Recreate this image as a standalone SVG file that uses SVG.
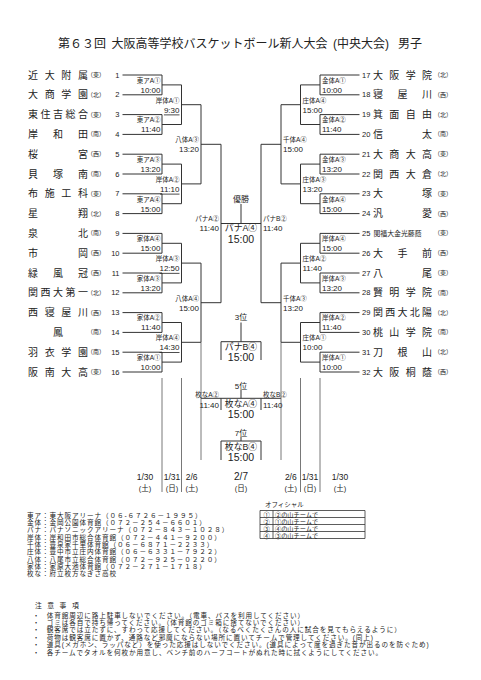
<svg xmlns="http://www.w3.org/2000/svg" width="481" height="680" viewBox="0 0 481 680">
<style>
text{font-family:"Liberation Sans","Noto Sans CJK JP","Noto Sans CJK SC",sans-serif;fill:#222;dominant-baseline:central}
.ln{fill:none;stroke:#333;stroke-width:1}
.sep{fill:none;stroke:#555;stroke-width:0.8}
.nm{font-size:10px;text-anchor:middle}
.rg{font-size:6px;text-anchor:middle}
.nL{font-size:7.5px;text-anchor:end}
.nR{font-size:7.5px;text-anchor:start}
.lb{font-size:6.5px}
.tm{font-size:8px}
.L{text-anchor:end}
.R{text-anchor:start}
.u{text-decoration:underline}
.c{text-anchor:middle}
.ct{font-size:8.8px;text-anchor:middle}
.cn{font-size:10.5px;text-anchor:middle}
.pl{font-size:8px;text-anchor:middle}
.dt{font-size:8.5px;text-anchor:middle}
.dw{font-size:7.5px;text-anchor:middle}
.sm{font-size:6.6px;letter-spacing:0.9px}
.bl{font-size:6.6px;text-anchor:middle}
.of{font-size:6.2px}
</style>
<rect width="481" height="680" fill="#fff"/>
<text id="title" x="58" y="44" style="font-size:12px">第６３回<tspan x="111.5">大阪高等学校バスケットボール新人大会</tspan><tspan x="333">(中央大会)</tspan><tspan x="398">男子</tspan></text>

<g id="connectors">
<path class="ln" d="M122.5 75H162V94.8H122.5M162 84.9H181.5M122.5 114.6H162V134.4H122.5M162 124.5H181.5M122.5 154.2H162V174H122.5M162 164.1H181.5M122.5 193.8H162V213.6H122.5M162 203.7H181.5M122.5 233.4H162V253.2H122.5M162 243.3H181.5M122.5 273H162V292.8H122.5M162 282.9H181.5M122.5 312.6H162V332.4H122.5M162 322.5H181.5M122.5 352.2H162V372H122.5M162 362.1H181.5"/>
<path class="ln" d="M181.5 84.9V124.5M181.5 104.7H201M181.5 164.1V203.7M181.5 183.9H201M181.5 243.3V282.9M181.5 263.1H201M181.5 322.5V362.1M181.5 342.3H201M201 104.7V183.9M201 144.3H221M201 263.1V342.3M201 302.7H221M221 144.3V302.7"/>
<path class="ln" d="M359.5 75H320V94.8H359.5M320 84.9H300.5M359.5 114.6H320V134.4H359.5M320 124.5H300.5M359.5 154.2H320V174H359.5M320 164.1H300.5M359.5 193.8H320V213.6H359.5M320 203.7H300.5M359.5 233.4H320V253.2H359.5M320 243.3H300.5M359.5 273H320V292.8H359.5M320 282.9H300.5M359.5 312.6H320V332.4H359.5M320 322.5H300.5M359.5 352.2H320V372H359.5M320 362.1H300.5"/>
<path class="ln" d="M300.5 84.9V124.5M300.5 104.7H281M300.5 164.1V203.7M300.5 183.9H281M300.5 243.3V282.9M300.5 263.1H281M300.5 322.5V362.1M300.5 342.3H281M281 104.7V183.9M281 144.3H261M281 263.1V342.3M281 302.7H261M261 144.3V302.7"/>
<path class="ln" d="M221 223.5H261M241 204V223.5"/>
<path class="ln" d="M241 322.5V341.7M221 360V341.7H261V360"/>
<path class="ln" d="M241 390V398.3M201 398.3H281M221 398.3V410M261 398.3V410"/>
<path class="ln" d="M241 437V441M221 460V441H261V460"/>
<path class="sep" d="M162 378V492M181.5 378V492M300.5 378V492M320 378V492M201 342.3V460M281 342.3V460"/>
</g>

<g id="teams-left">
<g id="t1"><text class="nm" x="33 49.67 66.33 83" y="75">近大附属</text><text class="rg" x="96" y="75">（東）</text><text class="nL" x="119.5" y="75">1</text></g>
<g id="t2"><text class="nm" x="33 49.67 66.33 83" y="94.8">大商学園</text><text class="rg" x="96" y="94.8">（北）</text><text class="nL" x="119.5" y="94.8">2</text></g>
<g id="t3"><text class="nm" x="33 45.5 58 70.5 83" y="114.6">東住吉総合</text><text class="rg" x="96" y="114.6">（東）</text><text class="nL" x="119.5" y="114.6">3</text></g>
<g id="t4"><text class="nm" x="33 58 83" y="134.4">岸和田</text><text class="rg" x="96" y="134.4">（南）</text><text class="nL" x="119.5" y="134.4">4</text></g>
<g id="t5"><text class="nm" x="33 83" y="154.2">桜宮</text><text class="rg" x="96" y="154.2">（西）</text><text class="nL" x="119.5" y="154.2">5</text></g>
<g id="t6"><text class="nm" x="33 58 83" y="174">貝塚南</text><text class="rg" x="96" y="174">（南）</text><text class="nL" x="119.5" y="174">6</text></g>
<g id="t7"><text class="nm" x="33 49.67 66.33 83" y="193.8">布施工科</text><text class="rg" x="96" y="193.8">（東）</text><text class="nL" x="119.5" y="193.8">7</text></g>
<g id="t8"><text class="nm" x="33 83" y="213.6">星翔</text><text class="rg" x="96" y="213.6">（北）</text><text class="nL" x="119.5" y="213.6">8</text></g>
<g id="t9"><text class="nm" x="33 83" y="233.4">泉北</text><text class="rg" x="96" y="233.4">（南）</text><text class="nL" x="119.5" y="233.4">9</text></g>
<g id="t10"><text class="nm" x="33 83" y="253.2">市岡</text><text class="rg" x="96" y="253.2">（西）</text><text class="nL" x="119.5" y="253.2">10</text></g>
<g id="t11"><text class="nm" x="33 58 83" y="273">緑風冠</text><text class="rg" x="96" y="273">（西）</text><text class="nL" x="119.5" y="273">11</text></g>
<g id="t12"><text class="nm" x="33 45.5 58 70.5 83" y="292.8">関西大第一</text><text class="rg" x="96" y="292.8">（北）</text><text class="nL" x="119.5" y="292.8">12</text></g>
<g id="t13"><text class="nm" x="33 49.67 66.33 83" y="312.6">西寝屋川</text><text class="rg" x="96" y="312.6">（西）</text><text class="nL" x="119.5" y="312.6">13</text></g>
<g id="t14"><text class="nm" x="58" y="332.4">鳳</text><text class="rg" x="96" y="332.4">（南）</text><text class="nL" x="119.5" y="332.4">14</text></g>
<g id="t15"><text class="nm" x="33 49.67 66.33 83" y="352.2">羽衣学園</text><text class="rg" x="96" y="352.2">（南）</text><text class="nL" x="119.5" y="352.2">15</text></g>
<g id="t16"><text class="nm" x="33 49.67 66.33 83" y="372">阪南大高</text><text class="rg" x="96" y="372">（東）</text><text class="nL" x="119.5" y="372">16</text></g>
</g>

<g id="teams-right">
<g id="t17"><text class="nR" x="362" y="75">17</text><text class="nm" x="378 394.33 410.67 427" y="75">大阪学院</text><text class="rg" x="443" y="75">（北）</text></g>
<g id="t18"><text class="nR" x="362" y="94.8">18</text><text class="nm" x="378 402.5 427" y="94.8">寝屋川</text><text class="rg" x="443" y="94.8">（西）</text></g>
<g id="t19"><text class="nR" x="362" y="114.6">19</text><text class="nm" x="378 394.33 410.67 427" y="114.6">箕面自由</text><text class="rg" x="443" y="114.6">（北）</text></g>
<g id="t20"><text class="nR" x="362" y="134.4">20</text><text class="nm" x="378 427" y="134.4">信太</text><text class="rg" x="443" y="134.4">（南）</text></g>
<g id="t21"><text class="nR" x="362" y="154.2">21</text><text class="nm" x="378 394.33 410.67 427" y="154.2">大商大高</text><text class="rg" x="443" y="154.2">（東）</text></g>
<g id="t22"><text class="nR" x="362" y="174">22</text><text class="nm" x="378 394.33 410.67 427" y="174">関西大倉</text><text class="rg" x="443" y="174">（北）</text></g>
<g id="t23"><text class="nR" x="362" y="193.8">23</text><text class="nm" x="378 427" y="193.8">大塚</text><text class="rg" x="443" y="193.8">（東）</text></g>
<g id="t24"><text class="nR" x="362" y="213.6">24</text><text class="nm" x="378 427" y="213.6">汎愛</text><text class="rg" x="443" y="213.6">（西）</text></g>
<g id="t25"><text class="nR" x="362" y="233.4">25</text><text class="nm" x="397.5" y="233.4" style="font-size:6.9px">関福大金光藤蔭</text><text class="rg" x="443" y="233.4">（東）</text></g>
<g id="t26"><text class="nR" x="362" y="253.2">26</text><text class="nm" x="378 402.5 427" y="253.2">大手前</text><text class="rg" x="443" y="253.2">（西）</text></g>
<g id="t27"><text class="nR" x="362" y="273">27</text><text class="nm" x="378 427" y="273">八尾</text><text class="rg" x="443" y="273">（東）</text></g>
<g id="t28"><text class="nR" x="362" y="292.8">28</text><text class="nm" x="378 394.33 410.67 427" y="292.8">賢明学院</text><text class="rg" x="443" y="292.8">（南）</text></g>
<g id="t29"><text class="nR" x="362" y="312.6">29</text><text class="nm" x="378 390.25 402.5 414.75 427" y="312.6">関西大北陽</text><text class="rg" x="443" y="312.6">（北）</text></g>
<g id="t30"><text class="nR" x="362" y="332.4">30</text><text class="nm" x="378 394.33 410.67 427" y="332.4">桃山学院</text><text class="rg" x="443" y="332.4">（南）</text></g>
<g id="t31"><text class="nR" x="362" y="352.2">31</text><text class="nm" x="378 402.5 427" y="352.2">刀根山</text><text class="rg" x="443" y="352.2">（北）</text></g>
<g id="t32"><text class="nR" x="362" y="372">32</text><text class="nm" x="378 394.33 410.67 427" y="372">大阪桐蔭</text><text class="rg" x="443" y="372">（西）</text></g>
</g>

<g id="matches-left">
<g id="mL1"><text class="lb L" x="160.5" y="80.2">東アA①</text><text class="tm L" x="160.5" y="90.2">10:00</text></g>
<g id="mL2"><text class="lb L" x="160.5" y="119.8">東アA②</text><text class="tm L" x="160.5" y="129.8">11:40</text></g>
<g id="mL3"><text class="lb L" x="160.5" y="159.4">東アA③</text><text class="tm L" x="160.5" y="169.4">13:20</text></g>
<g id="mL4"><text class="lb L" x="160.5" y="199">東アA④</text><text class="tm L" x="160.5" y="209">15:00</text></g>
<g id="mL5"><text class="lb L" x="160.5" y="238.6">家体A④</text><text class="tm L" x="160.5" y="248.6">15:00</text></g>
<g id="mL6"><text class="lb L" x="160.5" y="278.2">家体A③</text><text class="tm L" x="160.5" y="288.2">13:20</text></g>
<g id="mL7"><text class="lb L" x="160.5" y="317.8">家体A②</text><text class="tm L" x="160.5" y="327.8">11:40</text></g>
<g id="mL8"><text class="lb L" x="160.5" y="357.4">家体A①</text><text class="tm L" x="160.5" y="367.4">10:00</text></g>
<g id="mL9"><text class="lb L" x="179.5" y="100">岸体A①</text><text class="tm L u" x="179.5" y="110">9:30</text></g>
<g id="mL10"><text class="lb L" x="179.5" y="179.2">岸体A②</text><text class="tm L u" x="179.5" y="189.2">11:10</text></g>
<g id="mL11"><text class="lb L" x="179.5" y="258.4">岸体A③</text><text class="tm L u" x="179.5" y="268.4">12:50</text></g>
<g id="mL12"><text class="lb L" x="179.5" y="337.6">岸体A④</text><text class="tm L u" x="179.5" y="347.6">14:30</text></g>
<g id="mL13"><text class="lb L" x="199" y="139.6">八体A③</text><text class="tm L" x="199" y="149.6">13:20</text></g>
<g id="mL14"><text class="lb L" x="199" y="298">八体A④</text><text class="tm L" x="199" y="308">15:00</text></g>
<g id="mL15"><text class="lb L" x="219" y="218.8">パナA②</text><text class="tm L" x="219" y="228.3">11:40</text></g>
</g>

<g id="matches-right">
<g id="mR1"><text class="lb R" x="322" y="80.2">金体A①</text><text class="tm R" x="322" y="90.2">10:00</text></g>
<g id="mR2"><text class="lb R" x="322" y="119.8">金体A②</text><text class="tm R" x="322" y="129.8">11:40</text></g>
<g id="mR3"><text class="lb R" x="322" y="159.4">金体A③</text><text class="tm R" x="322" y="169.4">13:20</text></g>
<g id="mR4"><text class="lb R" x="322" y="199">金体A④</text><text class="tm R" x="322" y="209">15:00</text></g>
<g id="mR5"><text class="lb R" x="322" y="238.6">岸体A④</text><text class="tm R" x="322" y="248.6">15:00</text></g>
<g id="mR6"><text class="lb R" x="322" y="278.2">岸体A③</text><text class="tm R" x="322" y="288.2">13:20</text></g>
<g id="mR7"><text class="lb R" x="322" y="317.8">岸体A②</text><text class="tm R" x="322" y="327.8">11:40</text></g>
<g id="mR8"><text class="lb R" x="322" y="357.4">岸体A①</text><text class="tm R" x="322" y="367.4">10:00</text></g>
<g id="mR9"><text class="lb R" x="302.5" y="100">庄体A④</text><text class="tm R" x="302.5" y="110">15:00</text></g>
<g id="mR10"><text class="lb R" x="302.5" y="179.2">庄体A③</text><text class="tm R" x="302.5" y="189.2">13:20</text></g>
<g id="mR11"><text class="lb R" x="302.5" y="258.4">庄体A②</text><text class="tm R" x="302.5" y="268.4">11:40</text></g>
<g id="mR12"><text class="lb R" x="302.5" y="337.6">庄体A①</text><text class="tm R" x="302.5" y="347.6">10:00</text></g>
<g id="mR13"><text class="lb R" x="283" y="139.6">千体A④</text><text class="tm R" x="283" y="149.6">15:00</text></g>
<g id="mR14"><text class="lb R" x="283" y="298">千体A③</text><text class="tm R" x="283" y="308">13:20</text></g>
<g id="mR15"><text class="lb R" x="263" y="218.8">パナB②</text><text class="tm R" x="263" y="228.3">11:40</text></g>
</g>

<g id="final"><text class="pl" x="241" y="199">優勝</text><text class="ct" x="241" y="228.3">パナA④</text><text class="cn" x="241" y="238.5">15:00</text></g>
<g id="third"><text class="pl" x="241" y="317.7">3位</text><text class="ct" x="241" y="346.8">パナB④</text><text class="cn" x="241" y="357">15:00</text></g>
<g id="fifth"><text class="pl" x="241" y="386">5位</text><text class="ct" x="241" y="404.2">枚なA④</text><text class="cn" x="241" y="414.4">15:00</text></g>
<g id="fifthL"><text class="lb L" x="219" y="394.5">枚なA②</text><text class="tm L" x="219" y="405">11:40</text></g>
<g id="fifthR"><text class="lb R" x="263" y="394.5">枚なB②</text><text class="tm R" x="263" y="405">11:40</text></g>
<g id="seventh"><text class="pl" x="241" y="433">7位</text><text class="ct" x="241" y="446.8">枚なB④</text><text class="cn" x="241" y="457">15:00</text></g>

<g id="dates">
<text class="dt" x="145" y="476.7">1/30</text><text class="dw" x="145" y="488.3">(土)</text>
<text class="dt" x="172" y="476.7">1/31</text><text class="dw" x="172" y="488.3">(日)</text>
<text class="dt" x="191.7" y="476.7">2/6</text><text class="dw" x="191.7" y="488.3">(土)</text>
<text class="dt" x="241" y="476.7" style="font-size:10px">2/7</text><text class="dw" x="241" y="488.3">(日)</text>
<text class="dt" x="290.8" y="476.7">2/6</text><text class="dw" x="290.8" y="488.3">(土)</text>
<text class="dt" x="310" y="476.7">1/31</text><text class="dw" x="310" y="488.3">(日)</text>
<text class="dt" x="340" y="476.7">1/30</text><text class="dw" x="340" y="488.3">(土)</text>
</g>

<g id="venues">
<text class="sm" x="27" y="515">東ア：東大阪アリーナ（０６-６７２６－１９９５）</text>
<text class="sm" x="27" y="522.35">金体：金岡公園体育館（０７２－２５４－６６０１）</text>
<text class="sm" x="27" y="529.7">パナ：パナソニックアリーナ（０７２－８４３－１０２８）</text>
<text class="sm" x="27" y="537.05">岸体：岸和田市総合体育館（０７２－４４１－９２００）</text>
<text class="sm" x="27" y="544.4">千体：豊泉家千里体育館（０６－６８７１－２２３３）</text>
<text class="sm" x="27" y="551.75">庄体：豊中市立庄内体育館（０６－６３３１－７９２２）</text>
<text class="sm" x="27" y="559.1">八体：八尾市立総合体育館（０７２－９２５－０２２０）</text>
<text class="sm" x="27" y="566.45">家体：家原大池体育館（０７２－２７１－１７１８）</text>
<text class="sm" x="27" y="573.8">枚な：府立枚方なぎさ高校</text>
</g>

<g id="official">
<text class="of" x="265" y="504.5" style="font-size:6.5px">オフィシャル</text>
<path class="ln" d="M260 510.5H365V538.5H260ZM260 517.5H365M260 524.5H365M260 531.5H365M273 510.5V538.5" style="stroke-width:0.8"/>
<text class="of c" x="266.5" y="514">①</text><text class="of" x="275" y="514">②の山チームで</text>
<text class="of c" x="266.5" y="521">②</text><text class="of" x="275" y="521">①の山チームで</text>
<text class="of c" x="266.5" y="528">③</text><text class="of" x="275" y="528">④の山チームで</text>
<text class="of c" x="266.5" y="535">④</text><text class="of" x="275" y="535">③の山チームで</text>
</g>

<g id="notes">
<text class="sm" x="35 47.3 59.6 71.9" y="605" style="font-size:6.8px">注意事項</text>
<text class="bl" x="36" y="615">・</text><text class="sm" x="46.7" y="615">体育館周辺に路上駐車しないでください。（電車、バスを利用してください）</text>
<text class="bl" x="36" y="622.4">・</text><text class="sm" x="46.7" y="622.4">ゴミは各自で持ち帰ってください。（体育館のゴミ箱に捨てないでください）</text>
<text class="bl" x="36" y="629.8">・</text><text class="sm" x="46.7" y="629.8">観客席では立たずに、すわって応援してください。（なるべくたくさんの人に試合を見てもらえるように）</text>
<text class="bl" x="36" y="637.2">・</text><text class="sm" x="46.7" y="637.2">荷物は観客席に置かず、通路など邪魔にならない場所に置いてチームで管理してください。(同上)</text>
<text class="bl" x="36" y="644.6">・</text><text class="sm" x="46.7" y="644.6">道具(メガホン、ラッパなど）を使った応援はしないでください。(道具によって度を過ぎた音が出るのを防ぐため)</text>
<text class="bl" x="36" y="652">・</text><text class="sm" x="46.7" y="652">各チームでタオルを何枚か用意し、ベンチ前のハーフコートがぬれた時に拭くようにしてください。</text>
</g>
</svg>
